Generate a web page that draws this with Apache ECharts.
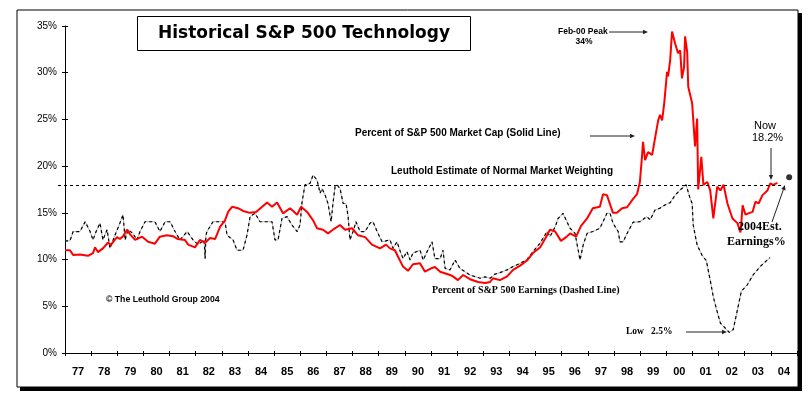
<!DOCTYPE html>
<html>
<head>
<meta charset="utf-8">
<script src="https://cdn.jsdelivr.net/npm/echarts@6/dist/echarts.min.js"></script>
<style>
  html, body { margin: 0; padding: 0; background: #fff; }
  #chart { width: 811px; height: 399px; }
</style>
</head>
<body>
<div id="chart"></div>
<script>
// year labels under the axis (one per year band)
const yearLabels = ['77', '78', '79', '80', '81', '82', '83', '84', '85', '86', '87', '88', '89', '90',
  '91', '92', '93', '94', '95', '96', '97', '98', '99', '00', '01', '02', '03', '04'];

// percent of S&P 500 market cap (solid red line) [year, %]
const marketCap = [
  [1977.00, 11.0], [1977.19, 11.0], [1977.31, 10.5], [1977.57, 10.55], [1977.88, 10.4], [1978.07, 10.7],
  [1978.15, 11.3], [1978.26, 10.8], [1978.45, 11.2], [1978.64, 11.8], [1978.76, 11.6], [1978.99, 12.4],
  [1979.10, 12.2], [1979.22, 12.5], [1979.37, 13.2], [1979.49, 12.7], [1979.68, 12.1], [1979.95, 12.45],
  [1980.18, 11.9], [1980.44, 11.7], [1980.63, 12.45], [1980.90, 12.6], [1981.13, 12.5], [1981.32, 12.2],
  [1981.59, 12.1], [1981.71, 11.6], [1981.97, 11.3], [1982.16, 12.1], [1982.36, 11.8], [1982.55, 12.3],
  [1982.74, 12.2], [1982.93, 13.5], [1983.12, 14.2], [1983.24, 15.1], [1983.39, 15.65], [1983.62, 15.5],
  [1983.81, 15.2], [1984.08, 15.0], [1984.31, 15.1], [1984.38, 15.3], [1984.73, 16.1], [1984.92, 15.65],
  [1985.11, 16.1], [1985.34, 14.95], [1985.61, 15.5], [1985.88, 14.8], [1986.03, 15.65], [1986.26, 15.1],
  [1986.49, 14.2], [1986.64, 13.35], [1986.87, 13.2], [1987.06, 12.8], [1987.25, 13.2], [1987.52, 13.7],
  [1987.71, 13.2], [1987.98, 13.35], [1988.21, 12.6], [1988.48, 12.4], [1988.74, 11.6], [1989.05, 11.2],
  [1989.28, 11.6], [1989.43, 11.2], [1989.62, 11.0], [1989.74, 10.3], [1989.93, 9.25], [1990.12, 8.8],
  [1990.31, 9.5], [1990.58, 9.6], [1990.77, 8.7], [1991.04, 9.1], [1991.15, 9.2], [1991.35, 8.7],
  [1991.73, 8.35], [1991.84, 8.2], [1992.03, 7.8], [1992.23, 8.35], [1992.49, 7.9], [1992.80, 7.6],
  [1993.07, 7.5], [1993.26, 7.6], [1993.37, 8.0], [1993.64, 7.8], [1993.91, 8.2], [1994.14, 8.9],
  [1994.41, 9.35], [1994.67, 9.9], [1994.90, 10.7], [1995.17, 11.3], [1995.36, 12.2], [1995.55, 13.2],
  [1995.75, 13.0], [1995.97, 12.0], [1996.17, 12.4], [1996.32, 12.8], [1996.55, 12.45], [1996.74, 13.6],
  [1996.97, 14.4], [1997.19, 15.5], [1997.46, 15.65], [1997.58, 17.0], [1997.73, 16.9], [1997.96, 15.0],
  [1998.11, 15.0], [1998.31, 15.5], [1998.50, 15.6], [1998.73, 16.5], [1998.88, 17.0], [1998.99, 18.3],
  [1999.07, 21.0], [1999.11, 22.6], [1999.19, 20.65], [1999.30, 21.5], [1999.46, 21.2], [1999.57, 23.0],
  [1999.69, 24.9], [1999.76, 25.5], [1999.84, 24.9], [1999.92, 26.7], [2000.03, 30.1], [2000.07, 29.6],
  [2000.15, 31.4], [2000.22, 34.4], [2000.34, 33.1], [2000.45, 32.1], [2000.53, 32.4], [2000.60, 29.4],
  [2000.68, 30.6], [2000.72, 33.9], [2000.80, 32.2], [2000.84, 28.5], [2000.99, 26.7], [2001.10, 22.1],
  [2001.18, 25.1], [2001.22, 17.5], [2001.34, 21.0], [2001.42, 18.0], [2001.57, 18.3], [2001.68, 17.4],
  [2001.80, 14.4], [2001.95, 17.8], [2002.07, 17.4], [2002.19, 18.0], [2002.34, 16.0], [2002.53, 14.4],
  [2002.72, 13.9], [2002.84, 12.9], [2002.92, 15.8], [2003.03, 14.8], [2003.14, 14.95], [2003.30, 15.1],
  [2003.41, 16.2], [2003.53, 16.0], [2003.68, 16.9], [2003.87, 17.4], [2003.98, 18.15], [2004.09, 18.0],
  [2004.25, 18.2]
];

// percent of S&P 500 earnings (dashed line) [year, %]
const earnings = [
  [1977.00, 12.0], [1977.19, 12.0], [1977.31, 13.0], [1977.57, 13.0], [1977.77, 14.05], [1977.96, 13.0],
  [1978.07, 12.1], [1978.19, 13.0], [1978.34, 13.9], [1978.45, 12.1], [1978.61, 13.2], [1978.72, 11.2],
  [1978.91, 12.6], [1979.10, 13.9], [1979.22, 14.8], [1979.30, 12.1], [1979.41, 13.2], [1979.60, 12.8],
  [1979.75, 12.1], [1979.87, 13.0], [1980.06, 14.05], [1980.44, 14.05], [1980.63, 13.0], [1980.83, 14.05],
  [1981.02, 14.05], [1981.21, 13.0], [1981.40, 12.1], [1981.67, 13.0], [1981.90, 12.1], [1982.09, 11.6],
  [1982.32, 12.1], [1982.36, 10.1], [1982.39, 12.6], [1982.43, 13.0], [1982.66, 14.05], [1983.12, 14.05],
  [1983.20, 12.6], [1983.43, 12.1], [1983.58, 11.0], [1983.81, 11.0], [1983.96, 12.6], [1984.08, 14.6],
  [1984.27, 14.95], [1984.46, 14.05], [1984.92, 14.05], [1985.03, 12.1], [1985.15, 12.1], [1985.30, 14.4],
  [1985.49, 14.6], [1985.68, 13.7], [1985.88, 13.0], [1985.99, 13.7], [1986.07, 16.2], [1986.18, 18.0],
  [1986.37, 18.15], [1986.49, 19.05], [1986.64, 18.5], [1986.76, 17.1], [1986.83, 17.6], [1986.95, 16.9],
  [1987.06, 16.0], [1987.18, 14.05], [1987.25, 16.0], [1987.33, 17.8], [1987.41, 18.0], [1987.52, 17.6],
  [1987.64, 16.0], [1987.75, 16.0], [1987.83, 14.6], [1987.90, 12.1], [1988.02, 13.0], [1988.13, 14.05],
  [1988.29, 13.0], [1988.48, 13.0], [1988.67, 13.9], [1988.78, 14.05], [1988.94, 13.0], [1989.13, 11.9],
  [1989.43, 12.1], [1989.55, 11.2], [1989.70, 11.9], [1989.82, 10.9], [1989.93, 10.1], [1990.08, 10.85],
  [1990.20, 9.95], [1990.31, 10.7], [1990.58, 11.0], [1990.70, 9.95], [1990.85, 10.85], [1991.04, 11.9],
  [1991.15, 10.1], [1991.35, 10.1], [1991.46, 11.0], [1991.54, 9.05], [1991.73, 8.9], [1991.92, 9.95],
  [1992.11, 9.05], [1992.30, 8.7], [1992.49, 8.35], [1992.88, 8.0], [1993.07, 8.15], [1993.26, 8.0],
  [1993.45, 8.45], [1993.64, 8.6], [1993.91, 8.9], [1994.14, 9.25], [1994.41, 9.6], [1994.67, 10.0],
  [1994.90, 10.85], [1995.17, 11.75], [1995.29, 12.3], [1995.44, 13.0], [1995.55, 12.45], [1995.75, 13.5],
  [1995.86, 14.4], [1996.05, 14.95], [1996.20, 14.05], [1996.32, 13.35], [1996.51, 12.8], [1996.70, 9.95],
  [1996.82, 11.55], [1996.97, 12.8], [1997.19, 13.0], [1997.46, 13.35], [1997.73, 14.95], [1997.85, 14.95],
  [1997.96, 13.9], [1998.16, 13.0], [1998.23, 11.9], [1998.35, 11.9], [1998.50, 12.8], [1998.73, 14.0],
  [1998.99, 14.05], [1999.26, 14.6], [1999.38, 14.25], [1999.57, 15.3], [1999.76, 15.5], [1999.95, 15.85],
  [2000.15, 16.1], [2000.34, 16.9], [2000.53, 17.45], [2000.76, 18.0], [2000.91, 16.55], [2000.99, 16.0],
  [2001.03, 13.7], [2001.18, 11.55], [2001.38, 10.4], [2001.53, 9.9], [2001.68, 7.8], [2001.80, 6.0],
  [2001.91, 4.8], [2002.07, 3.2], [2002.26, 2.65], [2002.41, 2.2], [2002.56, 2.5], [2002.72, 4.6],
  [2002.87, 6.6], [2003.10, 7.3], [2003.32, 8.35], [2003.59, 9.25], [2003.86, 9.95], [2003.97, 10.2]
];

// 2004 estimated earnings share (the dot) and the normal weighting line
const estimate2004 = [[2004.70, 18.8]];
const normalWeight = 18;
const normalWeightEnd = 2004.47;

const sans = '"Liberation Sans", Arial, sans-serif';
const serif = '"Liberation Serif", "Times New Roman", serif';

function label(text, x, y, font, align) {
  return {
    type: 'text', x: x, y: y, z: 100,
    style: { text: text, font: font, fill: '#000', align: align || 'left', verticalAlign: 'middle' }
  };
}

function arrow(x1, y1, x2, y2) {
  const a = Math.atan2(y2 - y1, x2 - x1);
  const len = 5, w = 2.2;
  const bx = x2 - len * Math.cos(a), by = y2 - len * Math.sin(a);
  const px = -Math.sin(a) * w, py = Math.cos(a) * w;
  return [
    { type: 'line', z: 100, shape: { x1: x1, y1: y1, x2: bx, y2: by }, style: { stroke: '#222', lineWidth: 1 } },
    { type: 'polygon', z: 100, shape: { points: [[x2, y2], [bx + px, by + py], [bx - px, by - py]] }, style: { fill: '#222' } }
  ];
}

let myChart = echarts.init(document.getElementById('chart'));

let option = {
  animation: false,
  grid: { left: 65, right: 14, top: 26, bottom: 46 },
  xAxis: [
    {
      type: 'value', min: 1977, max: 2005, interval: 1, position: 'bottom',
      axisLine: { lineStyle: { color: '#000', width: 1 } },
      axisTick: { length: 3, lineStyle: { color: '#000' } },
      axisLabel: { show: false }, splitLine: { show: false }
    },
    {
      type: 'value', min: 1977, max: 2005, interval: 1, position: 'bottom',
      axisLine: { show: false },
      axisTick: { inside: true, length: 2, lineStyle: { color: '#000' } },
      axisLabel: { show: false }, splitLine: { show: false }
    },
    {
      type: 'category', data: yearLabels, boundaryGap: true, position: 'bottom',
      axisLine: { show: false }, axisTick: { show: false }, splitLine: { show: false },
      axisLabel: { margin: 13, color: '#000', fontWeight: 'bold', fontSize: 11, fontFamily: sans }
    }
  ],
  yAxis: [
    {
      type: 'value', min: 0, max: 35, interval: 5,
      axisLine: { show: true, lineStyle: { color: '#000', width: 1 } },
      axisTick: { show: true, length: 3, lineStyle: { color: '#000' } },
      axisLabel: { formatter: '{value}%', margin: 8, color: '#000', fontSize: 10, fontFamily: sans },
      splitLine: { show: false }
    },
    {
      type: 'value', min: 0, max: 35, interval: 5, position: 'left',
      axisLine: { show: false },
      axisTick: { show: true, inside: true, length: 3, lineStyle: { color: '#000' } },
      axisLabel: { show: false }, splitLine: { show: false }
    }
  ],
  series: [
    {
      // faint grey under the dashes, as in the scanned original
      name: 'Earnings shade', type: 'line', data: earnings, symbol: 'none', silent: true,
      lineStyle: { color: '#b4b4b4', width: 1 }, z: 2
    },
    {
      name: 'Earnings', type: 'line', data: earnings, symbol: 'none',
      lineStyle: { color: '#000', width: 1.2, type: [3, 3] },
      markLine: {
        silent: true, symbol: 'none', label: { show: false },
        lineStyle: { color: '#000', width: 1, type: [3, 3] },
        data: [[{ coord: [1977, normalWeight] }, { coord: [normalWeightEnd, normalWeight] }]]
      },
      z: 3
    },
    {
      name: 'Market Cap', type: 'line', data: marketCap, symbol: 'none',
      lineStyle: { color: '#ff0000', width: 2 }, z: 4
    },
    {
      name: '2004 Est', type: 'scatter', data: estimate2004, symbolSize: 6,
      itemStyle: { color: '#000' }, z: 5
    }
  ],
  graphic: [
    // frame with drop shadow
    { type: 'rect', z: -10, shape: { x: 20, y: 13, width: 782, height: 378 }, style: { fill: '#000' } },
    { type: 'rect', z: -9, shape: { x: 17, y: 10, width: 781, height: 377 }, style: { fill: '#fff', stroke: '#000', lineWidth: 1 } },
    // title box
    { type: 'rect', z: 90, shape: { x: 137.5, y: 16.5, width: 333, height: 34 }, style: { fill: '#fff', stroke: '#000', lineWidth: 1 } },
    label('Historical S&P 500 Technology', 304, 34, 'bold 17px "DejaVu Sans", sans-serif', 'center'),
    // annotations
    label('Feb-00 Peak', 558, 32, 'bold 8.5px ' + sans),
    label('34%', 584, 42, 'bold 8.5px ' + sans, 'center'),
    ...arrow(609, 32, 648, 32),
    label('Percent of S&P 500 Market Cap (Solid Line)', 355, 133, 'bold 10px ' + sans),
    ...arrow(590, 136, 635, 136),
    label('Leuthold Estimate of Normal Market Weighting', 391, 171, 'bold 10px ' + sans),
    label('Now', 765, 126, '11px ' + sans, 'center'),
    label('18.2%', 767.5, 138, '11px ' + sans, 'center'),
    ...arrow(771, 148, 771, 180),
    label('2004Est.', 738, 227, 'bold 12px ' + serif),
    label('Earnings%', 727, 242, 'bold 12px ' + serif),
    ...arrow(772, 222, 785, 185),
    label('Percent of S&P 500 Earnings (Dashed Line)', 432, 290, 'bold 10px ' + serif),
    label('\u00a9 The Leuthold Group 2004', 106, 300, 'bold 8.7px ' + sans),
    label('Low   2.5%', 626, 332, 'bold 9.5px ' + serif),
    ...arrow(686, 332, 727, 332)
  ]
};

myChart.setOption(option);

// the normal weighting line starts a little left of the value axis
let start = myChart.convertToPixel({ xAxisIndex: 0, yAxisIndex: 0 }, [1977, normalWeight]);
myChart.setOption({
  series: [{}, {
    markLine: { data: [[{ x: start[0] - 7, y: start[1] }, { coord: [normalWeightEnd, normalWeight] }]] }
  }]
});
</script>
</body>
</html>
